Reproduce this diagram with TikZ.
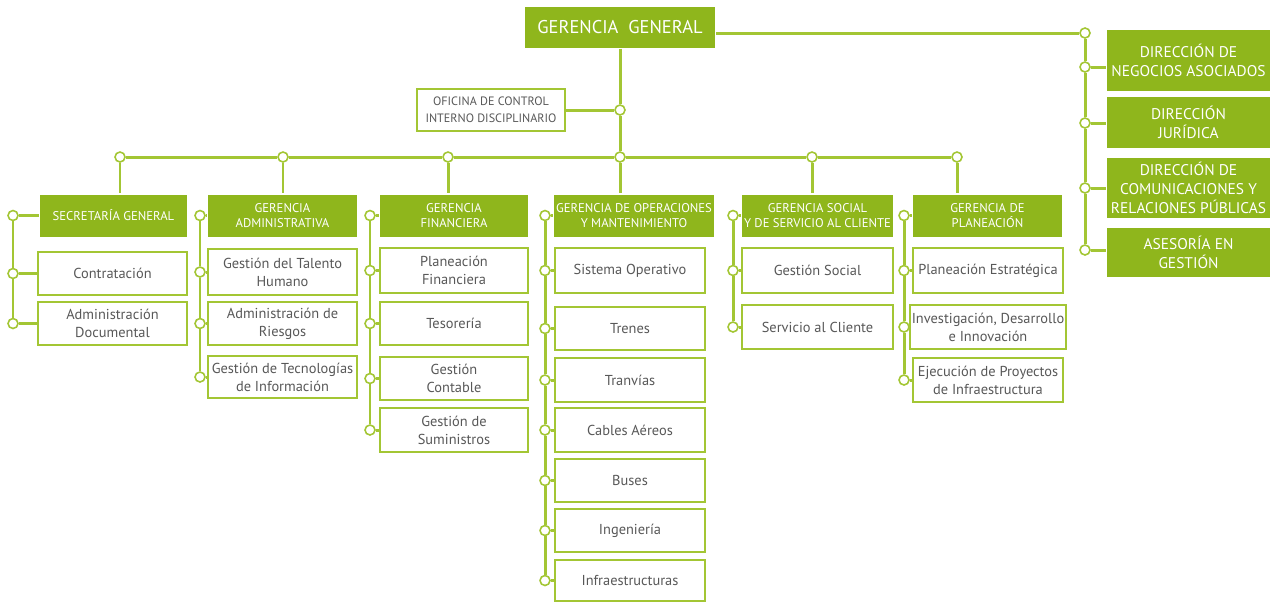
\documentclass[tikz,border=0pt]{standalone}
\usepackage{fontspec}
\setmainfont{PT Sans}
\usetikzlibrary{positioning,calc}

\definecolor{verde}{RGB}{143,182,28}
\definecolor{linea}{RGB}{163,198,52}
\definecolor{gristxt}{RGB}{88,88,88}

\begin{document}
\begin{tikzpicture}[x=0.02cm, y=-0.02cm,
  sz/.style 2 args={minimum width=#1*0.02cm, minimum height=#2*0.02cm},
  box/.style={align=center, inner sep=1pt, line width=1.4pt},
  head/.style={box, fill=verde, text=white, font=\fontsize{7.2}{9}\selectfont},
  dirbox/.style={box, fill=verde, text=white, font=\fontsize{8.8}{11}\selectfont},
  sub/.style={box, draw=linea, fill=white, text=gristxt, font=\fontsize{8.2}{10.2}\selectfont},
  dot/.style={circle, draw=linea, fill=white, line width=0.9pt, inner sep=0pt, minimum size=2mm},
  link/.style={draw=linea, line width=1.7pt}
]
\useasboundingbox (0,0) rectangle (1277,603);

% gerencia general y oficina
\node[head, sz={190}{41}, font=\fontsize{10.5}{12}\selectfont] (gg) at (620,27) {GERENCIA\ \ GENERAL};
\node[sub, sz={148}{42}, font=\fontsize{6.9}{9.5}\selectfont] (ocid) at (491,110) {OFICINA DE CONTROL\\INTERNO DISCIPLINARIO};
\node[dot] (tronco) at (620,110) {};
\node[dot] (esq) at (1085,33) {};
\foreach \n/\x in {t1/120,t2/283,t3/448,t4/620,t5/812,t6/957} \node[dot] (\n) at (\x,157) {};
\draw[link] (gg) -- (tronco);
\draw[link] (ocid) -- (tronco) -- (t4);
\draw[link] (t1) -- (t2) -- (t3) -- (t4) -- (t5) -- (t6);
\draw[link] (gg.east |- esq) -- (esq);

% gerencias
\foreach \n/\x/\w/\lab in {sg/113.5/147/SECRETARÍA GENERAL, ga/282.5/149/{GERENCIA\\ADMINISTRATIVA}, gf/454/148/{GERENCIA\\FINANCIERA}, go/634/158/{GERENCIA DE OPERACIONES\\Y MANTENIMIENTO}, gsc/817.5/151/{GERENCIA SOCIAL\\Y DE SERVICIO AL CLIENTE}, gp/987.5/149/{GERENCIA DE\\PLANEACIÓN}}
  \node[head, sz={\w}{42}] (\n) at (\x,215.5) {\lab};
\foreach \t/\n in {t1/sg,t2/ga,t3/gf,t4/go,t5/gsc,t6/gp} \draw[link] (\t) -- (\t |- \n.north);

% dependencias
\foreach \n/\x/\w/\y/\h/\lab in {
  con/112.5/149/273.5/43/Contratación, adoc/112.5/149/323.5/43/{Administración\\Documental},
  tal/282.5/149/272/46/{Gestión del Talento\\Humano}, rie/282.5/149/323.5/43/{Administración de\\Riesgos}, tec/282.5/149/377/42/{Gestión de Tecnologías\\de Información},
  pf/454/148/270.5/45/{Planeación\\Financiera}, tes/454/148/323.5/43/Tesorería, gc/454/148/378.5/43/{Gestión\\Contable}, gsu/454/148/430/44/{Gestión de\\Suministros},
  so/630/150/270.5/45/Sistema Operativo, tre/630/150/328.5/43/Trenes, tra/630/150/380/44/Tranvías, cab/630/150/430/44/Cables Aéreos, bus/630/150/480.5/43/Buses, ing/630/150/530.5/43/Ingeniería, inf/630/150/580.5/41/Infraestructuras,
  gso/817.5/151/270.5/45/Gestión Social, sac/817.5/151/327/44/Servicio al Cliente,
  pe/988/150/270.5/45/Planeación Estratégica, idi/988/150/327/44/{Investigación, Desarrollo\\e Innovación}, epi/988/150/380/44/{Ejecución de Proyectos\\de Infraestructura}}
  \node[sub, sz={\w}{\h}] (\n) at (\x,\y) {\lab};

% corchetes
\foreach \bx/\lst in {13/{sg,con,adoc}, 200/{ga,tal,rie,tec}, 370/{gf,pf,tes,gc,gsu}, 545/{go,so,tre,tra,cab,bus,ing,inf}, 733/{gsc,gso,sac}, 904/{gp,pe,idi,epi}} {
  \coordinate (bx) at (\bx,0);
  \foreach \n [count=\i, remember=\n as \prev] in \lst {
    \node[dot] (d\n) at (bx |- \n) {};
    \draw[link] (d\n) -- (\n);
    \ifnum\i>1 \draw[link] (d\prev) -- (d\n); \fi
  }
}

% direcciones
\foreach \n/\y/\h/\lab in {neg/60.5/61/{DIRECCIÓN DE\\NEGOCIOS ASOCIADOS}, jur/122.5/51/{DIRECCIÓN\\JURÍDICA}, com/188/60/{DIRECCIÓN DE\\COMUNICACIONES Y\\RELACIONES PÚBLICAS}, ase/252.5/49/{ASESORÍA EN\\GESTIÓN}}
  \node[dirbox, sz={163}{\h}] (\n) at (1188.5,\y) {\lab};
\foreach \n/\y in {neg/67,jur/123,com/188,ase/250} {
  \node[dot] (d\n) at (1085,\y) {};
  \draw[link] (d\n) -- (d\n -| \n.west);
}
\draw[link] (esq) -- (dneg) -- (djur) -- (dcom) -- (dase);
\end{tikzpicture}
\end{document}
